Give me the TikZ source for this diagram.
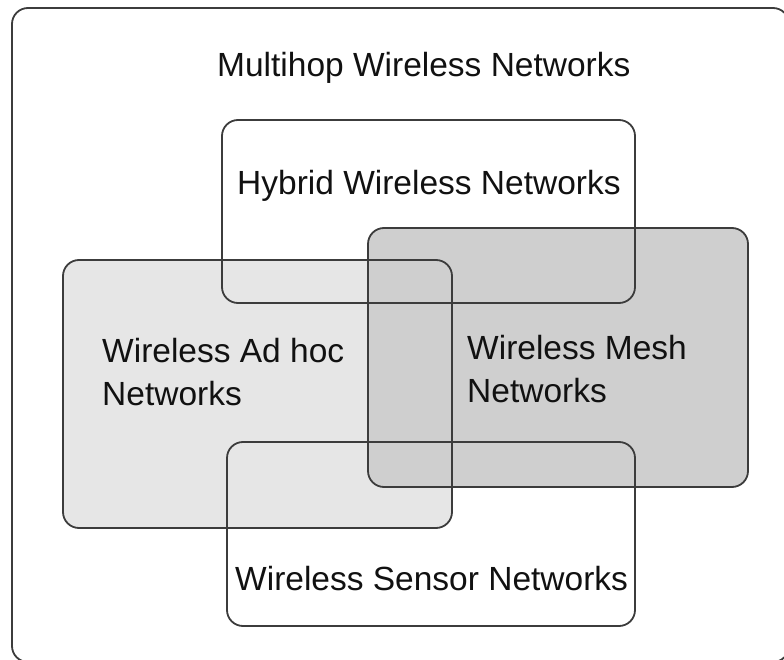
\documentclass[tikz,border=0pt]{standalone}
\usepackage{fontspec}
\setmainfont{Liberation Sans}
\definecolor{edge}{HTML}{3C3C3C}
\definecolor{adhocfill}{HTML}{E6E6E6}
\definecolor{meshfill}{HTML}{CFCFCF}
\definecolor{ink}{HTML}{111111}
\tikzset{
  setbox/.style={draw=edge, line width=1.8pt, rounded corners=16pt},
  setfill/.style={rounded corners=16pt},
  settext/.style={anchor=base west, inner sep=0pt, text=ink,
    font=\fontsize{33.5}{43}\selectfont, align=left},
}
\begin{document}
\begin{tikzpicture}[x=1pt, y=-1pt]
  \useasboundingbox (0,0) rectangle (784,660);
  \begin{scope}
    \clip (0,0) rectangle (784,660);
    % shaded regions first, so every outline stays visible on top
    \fill[setfill, adhocfill] (63,260) rectangle (452,528);
    \fill[setfill, meshfill] (368,228) rectangle (748,487);
    % outlines of the sets
    \draw[setbox] (12,8) rectangle (789,662);
    \draw[setbox] (222,120) rectangle (635,303);
    \draw[setbox] (63,260) rectangle (452,528);
    \draw[setbox] (368,228) rectangle (748,487);
    \draw[setbox] (227,442) rectangle (635,626);
  \end{scope}
  % labels (two-line labels are anchored at the baseline of their last line)
  \node[settext] (multihop) at (217,77) {Multihop Wireless Networks};
  \node[settext] (hybrid) at (237,195) {Hybrid Wireless Networks};
  \node[settext] (adhoc) at (102,405) {Wireless Ad hoc\\Networks};
  \node[settext] (mesh) at (467,402) {Wireless Mesh\\Networks};
  \node[settext] (sensor) at (235,590) {Wireless Sensor Networks};
\end{tikzpicture}
\end{document}
